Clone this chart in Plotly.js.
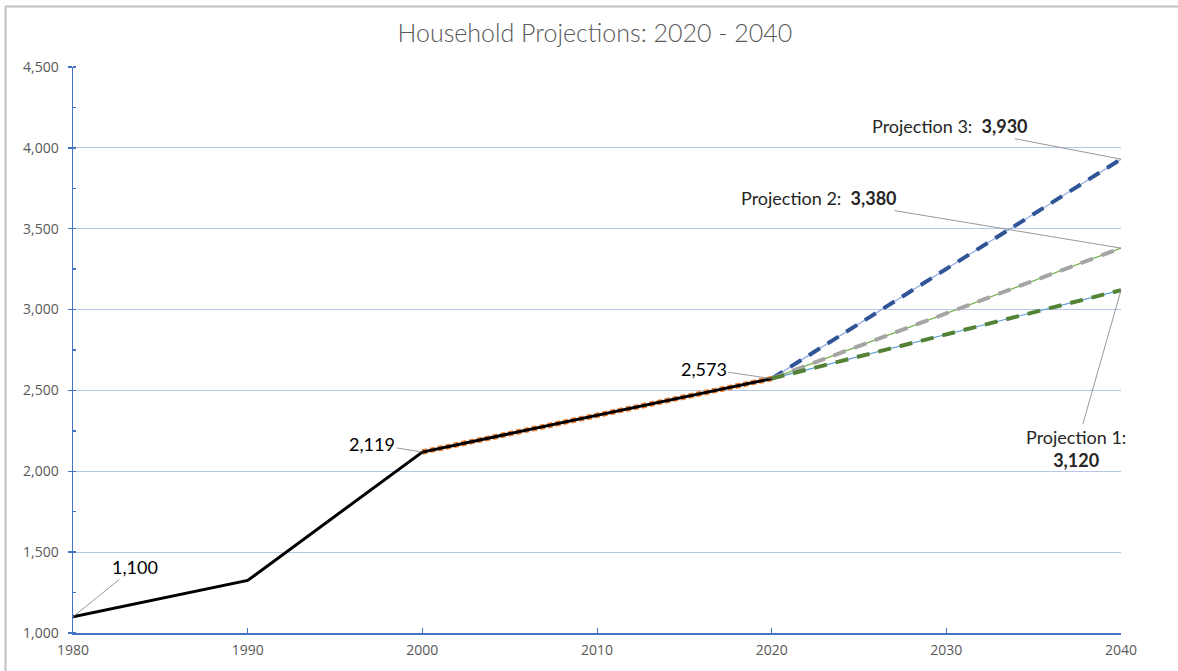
<!DOCTYPE html>
<html>
<head>
<meta charset="utf-8">
<script src="https://cdn.plot.ly/plotly-3.0.1.min.js"></script>
<style>html,body{margin:0;padding:0;background:#fff;}#chart{width:1178px;height:671px;}</style>
</head>
<body>
<div id="chart"></div>
<script>
// Data
const histYears = [1980, 1990, 2000, 2020];
const histValues = [1100, 1325, 2119, 2573];
const recentYears = [2000, 2020];
const recentValues = [2119, 2573];
const projYears = [2020, 2040];
const proj1 = [2573, 3120];
const proj2 = [2573, 3380];
const proj3 = [2573, 3930];
const xTicks = [1980, 1990, 2000, 2010, 2020, 2030, 2040];
const yTicks = [1000, 1500, 2000, 2500, 3000, 3500, 4000, 4500];
const yTickLabels = ["1,000", "1,500", "2,000", "2,500", "3,000", "3,500", "4,000", "4,500"];
const titleText = "Household Projections: 2020 - 2040";

const traces = [
  {x: projYears, y: proj3, mode: 'lines', line: {color: '#8faadc', width: 1.2}, hoverinfo: 'skip'},
  {x: projYears, y: proj3, mode: 'lines', line: {color: '#2f5597', width: 4, dash: '13px,9px'}, hoverinfo: 'skip'},
  {x: projYears, y: proj2, mode: 'lines', line: {color: '#70ad47', width: 1.2}, hoverinfo: 'skip'},
  {x: projYears, y: proj2, mode: 'lines', line: {color: '#a5a5a5', width: 4, dash: '13px,9px'}, hoverinfo: 'skip'},
  {x: projYears, y: proj1, mode: 'lines', line: {color: '#5b9bd5', width: 1.2}, hoverinfo: 'skip'},
  {x: projYears, y: proj1, mode: 'lines', line: {color: '#548235', width: 4, dash: '13px,9px'}, hoverinfo: 'skip'},
  {x: recentYears, y: recentValues, mode: 'lines', line: {color: '#ed7d31', width: 5.5, dash: '5px,3px'}, hoverinfo: 'skip'},
  {x: histYears, y: histValues, mode: 'lines', line: {color: '#000000', width: 3}, hoverinfo: 'skip'}
];

const annFont = {family: 'Lato, "Open Sans", sans-serif', size: 18, color: '#000000'};
const labFont = {family: 'Lato, "Open Sans", sans-serif', size: 18, color: '#262626'};
const arrowCommon = {showarrow: true, arrowhead: 0, arrowwidth: 0.8, arrowcolor: '#7f7f7f', standoff: 0, startstandoff: 0};

const fmt = v => v.toLocaleString('en-US');

const annotations = [
  Object.assign({x: histYears[0], y: histValues[0], text: fmt(histValues[0]), ax: 62, ay: -50, font: annFont}, arrowCommon),
  Object.assign({x: histYears[2], y: histValues[2], text: fmt(histValues[2]), ax: -50, ay: -8, font: annFont}, arrowCommon),
  Object.assign({x: histYears[3], y: histValues[3], text: fmt(histValues[3]), ax: -68, ay: -10, font: annFont}, arrowCommon),
  Object.assign({x: projYears[1], y: proj3[1], text: 'Projection 3:  <b>' + fmt(proj3[1]) + '</b>', ax: -171, ay: -33, font: labFont}, arrowCommon),
  Object.assign({x: projYears[1], y: proj2[1], text: 'Projection 2:  <b>' + fmt(proj2[1]) + '</b>', ax: -302, ay: -50, font: labFont}, arrowCommon),
  Object.assign({x: projYears[1], y: proj1[1], text: 'Projection 1:<br><b>' + fmt(proj1[1]) + '</b>', ax: -45, ay: 158, font: labFont, align: 'center'}, arrowCommon)
];

const layout = {
  width: 1178, height: 671,
  margin: {l: 73, r: 57, t: 67, b: 38, pad: 0},
  paper_bgcolor: '#ffffff', plot_bgcolor: '#ffffff',
  showlegend: false,
  title: {text: titleText, x: 0.505, xanchor: 'center', y: 0.951, yanchor: 'middle',
          font: {family: 'Lato, "Open Sans", sans-serif', size: 25, color: '#595959', weight: 300}},
  xaxis: {range: [1980, 2040], tickvals: xTicks, ticktext: xTicks.map(String),
          showgrid: false, zeroline: false, showline: true, linecolor: '#4472c4', linewidth: 1.5,
          ticks: 'inside', ticklen: 5, tickcolor: '#4472c4', tickwidth: 1,
          ticklabelstandoff: 4,
          tickfont: {family: '"Open Sans", sans-serif', size: 14, color: '#595959'}, fixedrange: true},
  yaxis: {range: [1000, 4500], tickvals: yTicks, ticktext: yTickLabels,
          showgrid: true, gridcolor: '#b4c7e7', gridwidth: 1.2, zeroline: false,
          showline: true, linecolor: '#4472c4', linewidth: 1.5,
          ticks: 'outside', ticklen: 4, tickcolor: '#4472c4', tickwidth: 1.5,
          ticklabelstandoff: 6,
          minor: {dtick: 250, ticks: 'inside', ticklen: 3, tickcolor: '#4472c4', showgrid: false},
          tickfont: {family: '"Open Sans", sans-serif', size: 14, color: '#595959'}, fixedrange: true},
  annotations: annotations,
  shapes: [
    {type: 'line', xref: 'paper', yref: 'paper', x0: -0.0644, x1: 1.06, y0: 1.1069, y1: 1.1069, line: {color: '#bfbfbf', width: 2}},
    {type: 'line', xref: 'paper', yref: 'paper', x0: -0.0644, x1: -0.0644, y0: 1.1069, y1: -0.07, line: {color: '#bfbfbf', width: 2}}
  ]
};

Plotly.newPlot('chart', traces, layout, {displayModeBar: false, staticPlot: true});
</script>
</body>
</html>
